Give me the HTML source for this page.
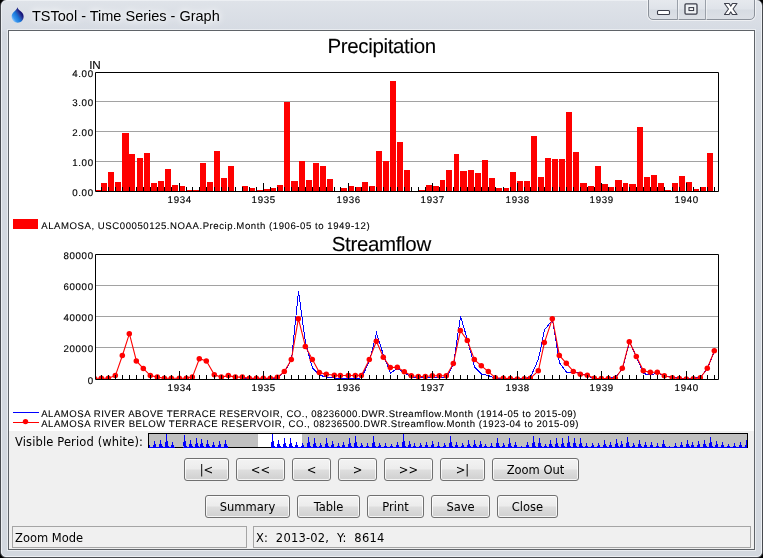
<!DOCTYPE html>
<html lang="en">
<head>
<meta charset="utf-8">
<title>TSTool - Time Series - Graph</title>
<style>
html,body{margin:0;padding:0;}
body{width:763px;height:558px;overflow:hidden;background:#000;position:relative;font-family:"Liberation Sans",sans-serif;}
#win{position:absolute;left:0;top:-1px;width:761px;height:557px;border:1px solid #484b50;border-radius:7px 7px 6px 6px;
 background:linear-gradient(#dfe3e9 0,#d6dbe3 31px,#d3d8df 32px,#d3d8df 100%);overflow:hidden;}
#win .hl{position:absolute;left:0;top:0;right:0;bottom:0;border:1px solid #eceff3;border-radius:6px 6px 5px 5px;}
#title{text-shadow:0 0 5px rgba(255,255,255,.95),0 0 9px rgba(255,255,255,.8),0 0 14px rgba(255,255,255,.6);will-change:transform;position:absolute;left:32px;top:7px;font-size:14.5px;line-height:18px;color:#000;white-space:pre;}
#client{position:absolute;left:8px;top:30px;width:745px;height:518px;border:1px solid #5f6368;background:#f0f0f0;box-shadow:0 0 0 1px #e9ecf0;}
#canvas{position:absolute;left:9px;top:31px;width:745px;height:400px;background:#fff;}
#caps{position:absolute;left:647px;top:-1px;width:107px;height:21px;border:1px solid #8b919a;border-radius:0 0 5px 5px;
 background:linear-gradient(#e6e9ee 0,#dfe3e9 48%,#d6dbe2 52%,#dce0e6 100%);box-sizing:border-box;box-shadow:0 0 0 1px rgba(255,255,255,.55);}
#caps i{position:absolute;top:0;width:1px;height:20px;background:#9aa0a9;box-shadow:1px 0 0 rgba(255,255,255,.5);}
.btn{will-change:transform;position:absolute;height:21px;border:1px solid #707070;border-radius:3px;box-sizing:content-box;
 background:linear-gradient(#f3f3f3 0,#ececec 48%,#dedede 52%,#d0d0d0 100%);box-shadow:inset 0 0 0 1px rgba(255,255,255,.75);
 font-family:"DejaVu Sans","Liberation Sans",sans-serif;font-size:11.5px;line-height:22px;text-align:center;color:#000;white-space:pre;}
.ui{will-change:transform;position:absolute;font-family:"DejaVu Sans","Liberation Sans",sans-serif;font-size:11.5px;line-height:14px;color:#000;white-space:pre;}
.fld{position:absolute;top:526px;height:20px;border:1px solid #a5a5a5;background:#f0f0f0;}
svg{position:absolute;left:0;top:0;will-change:transform;}
svg text{font-family:"Liberation Sans",sans-serif;font-size:10px;fill:#000;stroke:#000;stroke-width:.1px;text-rendering:geometricPrecision;}
svg text.ax{font-size:9.7px;letter-spacing:.65px;stroke-width:.15px;}
svg text.lg{font-size:9.6px;letter-spacing:.5px;}
svg text.ttl{font-size:20.5px;letter-spacing:-.34px;}
</style>
</head>
<body>
<div id="win"><div class="hl"></div>
<div id="caps"><i style="left:28px"></i><i style="left:56px"></i></div>
</div>
<div id="title">TSTool - Time Series - Graph</div>
<div id="client"></div>
<div id="canvas"></div>

<div class="ui" style="left:14.6px;top:434.5px;letter-spacing:.13px">Visible Period (white):</div>

<div class="btn" style="left:184px;top:458px;width:43px">|&lt;</div>
<div class="btn" style="left:236px;top:458px;width:47px">&lt;&lt;</div>
<div class="btn" style="left:292px;top:458px;width:37px">&lt;</div>
<div class="btn" style="left:338px;top:458px;width:37px">&gt;</div>
<div class="btn" style="left:384px;top:458px;width:47px">&gt;&gt;</div>
<div class="btn" style="left:440px;top:458px;width:43px">&gt;|</div>
<div class="btn" style="left:492px;top:458px;width:85px">Zoom Out</div>

<div class="btn" style="left:205px;top:495px;width:83px">Summary</div>
<div class="btn" style="left:297px;top:495px;width:61px">Table</div>
<div class="btn" style="left:367px;top:495px;width:55px">Print</div>
<div class="btn" style="left:431px;top:495px;width:57px">Save</div>
<div class="btn" style="left:497px;top:495px;width:59px">Close</div>

<div class="fld" style="left:12px;width:233px"></div>
<div class="fld" style="left:253px;width:496px"></div>
<div class="ui" style="left:15px;top:530.5px">Zoom Mode</div>
<div class="ui" style="left:256px;top:530.5px;letter-spacing:.2px">X:  2013-02,  Y:  8614</div>

<svg width="763" height="558" viewBox="0 0 763 558">
<!-- app icon: water drop -->
<defs><linearGradient id="dg" x1="0.1" y1="0.95" x2="0.95" y2="0.25"><stop offset="0" stop-color="#b4dcff"/><stop offset=".22" stop-color="#3a96ee"/><stop offset=".48" stop-color="#1674d6"/><stop offset=".62" stop-color="#2b4cac"/><stop offset=".8" stop-color="#17177c"/><stop offset="1" stop-color="#1d0f6e"/></linearGradient></defs>
<path d="M17.4 7.2 C17.8 9.5 20 10.5 21.8 12.3 C24.3 14.8 24.2 18.6 21.9 20.9 C19.6 23.2 15.7 23.2 13.4 20.9 C11.1 18.6 11 14.9 13.3 12.5 C15 10.7 17 9.5 17.4 7.2Z" fill="url(#dg)"/>
<!-- caption glyphs -->
<rect x="657.5" y="10.5" width="12" height="4" rx="1" fill="#fff" stroke="#3d3f4b" stroke-width="1.1"/>
<rect x="685" y="3.9" width="12" height="10.2" rx="1" fill="#eef1f4" stroke="#3d3f4b" stroke-width="1.3"/>
<rect x="689" y="7.6" width="4.6" height="2.9" fill="#fff" stroke="#3d3f4b" stroke-width="1.1"/>
<path d="M724.5 3.5 h4.6 l1.65 2.6 l1.65 -2.6 h4.6 l-4 5.5 l4 5.5 h-4.6 l-1.65 -2.6 l-1.65 2.6 h-4.6 l4 -5.5 z" fill="#fff" stroke="#3d3f4b" stroke-width="1.1" stroke-linejoin="round"/>
<rect x="96" y="101" width="622" height="1" fill="#a2a2a2"/>
<rect x="96" y="131" width="622" height="1" fill="#a2a2a2"/>
<rect x="96" y="161" width="622" height="1" fill="#a2a2a2"/>
<rect x="96" y="190" width="5" height="1" fill="#fe0000"/>
<rect x="101" y="183" width="6" height="8" fill="#fe0000"/>
<rect x="108" y="172" width="6" height="19" fill="#fe0000"/>
<rect x="115" y="182" width="6" height="9" fill="#fe0000"/>
<rect x="122" y="133" width="7" height="58" fill="#fe0000"/>
<rect x="129" y="154" width="6" height="37" fill="#fe0000"/>
<rect x="137" y="158" width="6" height="33" fill="#fe0000"/>
<rect x="144" y="153" width="6" height="38" fill="#fe0000"/>
<rect x="151" y="183" width="6" height="8" fill="#fe0000"/>
<rect x="158" y="181" width="6" height="10" fill="#fe0000"/>
<rect x="165" y="169" width="6" height="22" fill="#fe0000"/>
<rect x="172" y="185" width="6" height="6" fill="#fe0000"/>
<rect x="179" y="186" width="6" height="5" fill="#fe0000"/>
<rect x="186" y="190" width="6" height="1" fill="#fe0000"/>
<rect x="193" y="190" width="6" height="1" fill="#fe0000"/>
<rect x="200" y="163" width="6" height="28" fill="#fe0000"/>
<rect x="207" y="182" width="6" height="9" fill="#fe0000"/>
<rect x="214" y="151" width="6" height="40" fill="#fe0000"/>
<rect x="221" y="178" width="6" height="13" fill="#fe0000"/>
<rect x="228" y="166" width="6" height="25" fill="#fe0000"/>
<rect x="242" y="186" width="6" height="5" fill="#fe0000"/>
<rect x="249" y="188" width="6" height="3" fill="#fe0000"/>
<rect x="256" y="190" width="7" height="1" fill="#fe0000"/>
<rect x="264" y="189" width="6" height="2" fill="#fe0000"/>
<rect x="271" y="188" width="5" height="3" fill="#fe0000"/>
<rect x="277" y="185" width="6" height="6" fill="#fe0000"/>
<rect x="284" y="102" width="6" height="89" fill="#fe0000"/>
<rect x="291" y="181" width="7" height="10" fill="#fe0000"/>
<rect x="299" y="161" width="6" height="30" fill="#fe0000"/>
<rect x="306" y="180" width="6" height="11" fill="#fe0000"/>
<rect x="313" y="163" width="6" height="28" fill="#fe0000"/>
<rect x="320" y="166" width="6" height="25" fill="#fe0000"/>
<rect x="327" y="179" width="6" height="12" fill="#fe0000"/>
<rect x="341" y="188" width="6" height="3" fill="#fe0000"/>
<rect x="348" y="186" width="6" height="5" fill="#fe0000"/>
<rect x="355" y="187" width="6" height="4" fill="#fe0000"/>
<rect x="362" y="182" width="6" height="9" fill="#fe0000"/>
<rect x="369" y="186" width="6" height="5" fill="#fe0000"/>
<rect x="376" y="151" width="6" height="40" fill="#fe0000"/>
<rect x="383" y="161" width="6" height="30" fill="#fe0000"/>
<rect x="390" y="81" width="6" height="110" fill="#fe0000"/>
<rect x="397" y="142" width="6" height="49" fill="#fe0000"/>
<rect x="404" y="170" width="6" height="21" fill="#fe0000"/>
<rect x="419" y="190" width="6" height="1" fill="#fe0000"/>
<rect x="426" y="185" width="6" height="6" fill="#fe0000"/>
<rect x="433" y="186" width="6" height="5" fill="#fe0000"/>
<rect x="440" y="180" width="5" height="11" fill="#fe0000"/>
<rect x="446" y="170" width="6" height="21" fill="#fe0000"/>
<rect x="454" y="154" width="5" height="37" fill="#fe0000"/>
<rect x="460" y="171" width="7" height="20" fill="#fe0000"/>
<rect x="468" y="170" width="6" height="21" fill="#fe0000"/>
<rect x="475" y="173" width="6" height="18" fill="#fe0000"/>
<rect x="482" y="160" width="6" height="31" fill="#fe0000"/>
<rect x="489" y="178" width="6" height="13" fill="#fe0000"/>
<rect x="496" y="188" width="6" height="3" fill="#fe0000"/>
<rect x="503" y="188" width="6" height="3" fill="#fe0000"/>
<rect x="510" y="172" width="6" height="19" fill="#fe0000"/>
<rect x="517" y="181" width="6" height="10" fill="#fe0000"/>
<rect x="524" y="181" width="6" height="10" fill="#fe0000"/>
<rect x="531" y="136" width="6" height="55" fill="#fe0000"/>
<rect x="538" y="177" width="6" height="14" fill="#fe0000"/>
<rect x="545" y="158" width="6" height="33" fill="#fe0000"/>
<rect x="552" y="159" width="6" height="32" fill="#fe0000"/>
<rect x="559" y="159" width="6" height="32" fill="#fe0000"/>
<rect x="566" y="112" width="6" height="79" fill="#fe0000"/>
<rect x="573" y="152" width="6" height="39" fill="#fe0000"/>
<rect x="580" y="183" width="7" height="8" fill="#fe0000"/>
<rect x="588" y="186" width="6" height="5" fill="#fe0000"/>
<rect x="595" y="166" width="6" height="25" fill="#fe0000"/>
<rect x="602" y="184" width="6" height="7" fill="#fe0000"/>
<rect x="609" y="187" width="5" height="4" fill="#fe0000"/>
<rect x="615" y="180" width="7" height="11" fill="#fe0000"/>
<rect x="623" y="183" width="5" height="8" fill="#fe0000"/>
<rect x="629" y="184" width="7" height="7" fill="#fe0000"/>
<rect x="637" y="127" width="6" height="64" fill="#fe0000"/>
<rect x="644" y="177" width="6" height="14" fill="#fe0000"/>
<rect x="651" y="175" width="6" height="16" fill="#fe0000"/>
<rect x="658" y="183" width="6" height="8" fill="#fe0000"/>
<rect x="665" y="190" width="6" height="1" fill="#fe0000"/>
<rect x="672" y="183" width="6" height="8" fill="#fe0000"/>
<rect x="679" y="176" width="6" height="15" fill="#fe0000"/>
<rect x="686" y="182" width="6" height="9" fill="#fe0000"/>
<rect x="693" y="189" width="6" height="2" fill="#fe0000"/>
<rect x="700" y="187" width="6" height="4" fill="#fe0000"/>
<rect x="707" y="153" width="6" height="38" fill="#fe0000"/>
<rect x="101" y="187" width="1" height="4" fill="#000"/>
<rect x="108" y="187" width="1" height="4" fill="#000"/>
<rect x="115" y="187" width="1" height="4" fill="#000"/>
<rect x="122" y="187" width="1" height="4" fill="#000"/>
<rect x="129" y="187" width="1" height="4" fill="#000"/>
<rect x="136" y="187" width="1" height="4" fill="#000"/>
<rect x="143" y="187" width="1" height="4" fill="#000"/>
<rect x="150" y="187" width="1" height="4" fill="#000"/>
<rect x="157" y="187" width="1" height="4" fill="#000"/>
<rect x="164" y="187" width="1" height="4" fill="#000"/>
<rect x="171" y="187" width="1" height="4" fill="#000"/>
<rect x="179" y="183" width="1" height="8" fill="#000"/>
<rect x="186" y="187" width="1" height="4" fill="#000"/>
<rect x="192" y="187" width="1" height="4" fill="#000"/>
<rect x="199" y="187" width="1" height="4" fill="#000"/>
<rect x="206" y="187" width="1" height="4" fill="#000"/>
<rect x="214" y="187" width="1" height="4" fill="#000"/>
<rect x="221" y="187" width="1" height="4" fill="#000"/>
<rect x="228" y="187" width="1" height="4" fill="#000"/>
<rect x="235" y="187" width="1" height="4" fill="#000"/>
<rect x="242" y="187" width="1" height="4" fill="#000"/>
<rect x="249" y="187" width="1" height="4" fill="#000"/>
<rect x="256" y="187" width="1" height="4" fill="#000"/>
<rect x="263" y="183" width="1" height="8" fill="#000"/>
<rect x="270" y="187" width="1" height="4" fill="#000"/>
<rect x="277" y="187" width="1" height="4" fill="#000"/>
<rect x="284" y="187" width="1" height="4" fill="#000"/>
<rect x="291" y="187" width="1" height="4" fill="#000"/>
<rect x="298" y="187" width="1" height="4" fill="#000"/>
<rect x="305" y="187" width="1" height="4" fill="#000"/>
<rect x="312" y="187" width="1" height="4" fill="#000"/>
<rect x="319" y="187" width="1" height="4" fill="#000"/>
<rect x="326" y="187" width="1" height="4" fill="#000"/>
<rect x="334" y="187" width="1" height="4" fill="#000"/>
<rect x="340" y="187" width="1" height="4" fill="#000"/>
<rect x="348" y="183" width="1" height="8" fill="#000"/>
<rect x="355" y="187" width="1" height="4" fill="#000"/>
<rect x="361" y="187" width="1" height="4" fill="#000"/>
<rect x="369" y="187" width="1" height="4" fill="#000"/>
<rect x="376" y="187" width="1" height="4" fill="#000"/>
<rect x="383" y="187" width="1" height="4" fill="#000"/>
<rect x="390" y="187" width="1" height="4" fill="#000"/>
<rect x="397" y="187" width="1" height="4" fill="#000"/>
<rect x="404" y="187" width="1" height="4" fill="#000"/>
<rect x="411" y="187" width="1" height="4" fill="#000"/>
<rect x="418" y="187" width="1" height="4" fill="#000"/>
<rect x="425" y="187" width="1" height="4" fill="#000"/>
<rect x="432" y="183" width="1" height="8" fill="#000"/>
<rect x="439" y="187" width="1" height="4" fill="#000"/>
<rect x="446" y="187" width="1" height="4" fill="#000"/>
<rect x="453" y="187" width="1" height="4" fill="#000"/>
<rect x="460" y="187" width="1" height="4" fill="#000"/>
<rect x="467" y="187" width="1" height="4" fill="#000"/>
<rect x="474" y="187" width="1" height="4" fill="#000"/>
<rect x="481" y="187" width="1" height="4" fill="#000"/>
<rect x="488" y="187" width="1" height="4" fill="#000"/>
<rect x="495" y="187" width="1" height="4" fill="#000"/>
<rect x="503" y="187" width="1" height="4" fill="#000"/>
<rect x="510" y="187" width="1" height="4" fill="#000"/>
<rect x="517" y="183" width="1" height="8" fill="#000"/>
<rect x="524" y="187" width="1" height="4" fill="#000"/>
<rect x="530" y="187" width="1" height="4" fill="#000"/>
<rect x="538" y="187" width="1" height="4" fill="#000"/>
<rect x="544" y="187" width="1" height="4" fill="#000"/>
<rect x="552" y="187" width="1" height="4" fill="#000"/>
<rect x="559" y="187" width="1" height="4" fill="#000"/>
<rect x="566" y="187" width="1" height="4" fill="#000"/>
<rect x="573" y="187" width="1" height="4" fill="#000"/>
<rect x="580" y="187" width="1" height="4" fill="#000"/>
<rect x="587" y="187" width="1" height="4" fill="#000"/>
<rect x="594" y="187" width="1" height="4" fill="#000"/>
<rect x="601" y="183" width="1" height="8" fill="#000"/>
<rect x="608" y="187" width="1" height="4" fill="#000"/>
<rect x="615" y="187" width="1" height="4" fill="#000"/>
<rect x="622" y="187" width="1" height="4" fill="#000"/>
<rect x="629" y="187" width="1" height="4" fill="#000"/>
<rect x="636" y="187" width="1" height="4" fill="#000"/>
<rect x="643" y="187" width="1" height="4" fill="#000"/>
<rect x="650" y="187" width="1" height="4" fill="#000"/>
<rect x="657" y="187" width="1" height="4" fill="#000"/>
<rect x="664" y="187" width="1" height="4" fill="#000"/>
<rect x="672" y="187" width="1" height="4" fill="#000"/>
<rect x="679" y="187" width="1" height="4" fill="#000"/>
<rect x="686" y="183" width="1" height="8" fill="#000"/>
<rect x="693" y="187" width="1" height="4" fill="#000"/>
<rect x="700" y="187" width="1" height="4" fill="#000"/>
<rect x="707" y="187" width="1" height="4" fill="#000"/>
<rect x="714" y="187" width="1" height="4" fill="#000"/>
<path d="M95.5 72.5H718.5V191.5H95.5Z" fill="none" stroke="#000" stroke-width="1"/>
<rect x="96" y="285" width="622" height="1" fill="#a2a2a2"/>
<rect x="96" y="316" width="622" height="1" fill="#a2a2a2"/>
<rect x="96" y="347" width="622" height="1" fill="#a2a2a2"/>
<clipPath id="cs"><rect x="96" y="255" width="622" height="124"/></clipPath>
<polyline clip-path="url(#cs)" points="242.5,378.4 249.5,378.4 256.5,378.4 263.5,378.4 270.5,378.4 277.5,378.2 284.5,371.8 291.5,359.6 298.5,291.3 305.5,343.0 312.5,368.0 319.5,375.0 326.5,377.3 334.5,378.0 340.5,378.4 348.5,378.6 355.5,378.6 361.5,377.8 369.5,361.0 376.5,333.0 383.5,355.2 390.5,373.1 397.5,368.4 404.5,373.0 411.5,376.7 418.5,377.8 425.5,377.8 432.5,377.8 439.5,377.8 446.5,377.6 453.5,364.5 460.5,316.3 467.5,339.8 474.5,366.9 481.5,374.0 488.5,375.6 495.5,378.4 503.5,378.4 510.5,378.4 517.5,378.4 524.5,378.4 530.5,377.3 538.5,359.0 544.5,329.8 552.5,320.0 559.5,362.7 566.5,372.1 573.5,372.1 580.5,373.0 587.5,376.2 594.5,378.4 601.5,378.4 608.5,378.4 615.5,377.5 622.5,368.5 629.5,341.8 636.5,357.0 643.5,373.6 650.5,375.0 657.5,373.0 664.5,376.0 672.5,377.2 679.5,378.0 686.5,378.4 693.5,378.2 700.5,377.1 707.5,368.4 714.5,350.8" fill="none" stroke="#0000ff" stroke-width="1" shape-rendering="crispEdges"/>
<g clip-path="url(#cs)"><polyline points="94.4,378.3 101.4,378.3 108.4,378.3 115.4,375.6 122.4,355.5 129.4,333.7 136.4,360.9 143.4,368.6 150.4,375.6 157.4,377.1 164.4,378.3 171.4,378.3 179.4,378.3 186.4,378.3 192.4,377.1 199.4,358.7 206.4,360.9 214.4,374.7 221.4,377.1 228.4,375.6 235.4,377.1 242.4,377.1 249.4,378.3 256.4,378.3 263.4,378.2 270.4,378.2 277.4,377.3 284.4,371.6 291.4,359.4 298.4,318.7 305.4,346.4 312.4,359.6 319.4,372.5 326.4,374.2 334.4,375.2 340.4,375.5 348.4,375.5 355.4,375.5 361.4,375.5 369.4,359.6 376.4,341.3 383.4,357.3 390.4,367.6 397.4,367.3 404.4,371.8 411.4,375.7 418.4,376.5 425.4,376.5 432.4,375.7 439.4,375.7 446.4,375.7 453.4,363.5 460.4,330.6 467.4,340.4 474.4,359.6 481.4,365.8 488.4,371.6 495.4,377.8 503.4,378.2 510.4,378.6 517.4,379.0 524.4,378.8 530.4,378.2 538.4,370.8 544.4,342.6 552.4,318.7 559.4,355.4 566.4,363.3 573.4,371.4 580.4,374.2 587.4,375.2 594.4,378.2 601.4,378.6 608.4,378.6 615.4,378.2 622.4,368.2 629.4,341.7 636.4,356.4 643.4,370.8 650.4,372.3 657.4,372.3 664.4,375.7 672.4,377.8 679.4,378.6 686.4,379.0 693.4,378.8 700.4,377.8 707.4,368.2 714.4,350.7" fill="none" stroke="#ff0000" stroke-width="1.1"/>
<circle cx="94.3" cy="378.3" r="2.75" fill="#ff0000"/>
<circle cx="101.3" cy="378.3" r="2.75" fill="#ff0000"/>
<circle cx="108.3" cy="378.3" r="2.75" fill="#ff0000"/>
<circle cx="115.3" cy="375.6" r="2.75" fill="#ff0000"/>
<circle cx="122.3" cy="355.5" r="2.75" fill="#ff0000"/>
<circle cx="129.3" cy="333.7" r="2.75" fill="#ff0000"/>
<circle cx="136.3" cy="360.9" r="2.75" fill="#ff0000"/>
<circle cx="143.3" cy="368.6" r="2.75" fill="#ff0000"/>
<circle cx="150.3" cy="375.6" r="2.75" fill="#ff0000"/>
<circle cx="157.3" cy="377.1" r="2.75" fill="#ff0000"/>
<circle cx="164.3" cy="378.3" r="2.75" fill="#ff0000"/>
<circle cx="171.3" cy="378.3" r="2.75" fill="#ff0000"/>
<circle cx="179.3" cy="378.3" r="2.75" fill="#ff0000"/>
<circle cx="186.3" cy="378.3" r="2.75" fill="#ff0000"/>
<circle cx="192.3" cy="377.1" r="2.75" fill="#ff0000"/>
<circle cx="199.3" cy="358.7" r="2.75" fill="#ff0000"/>
<circle cx="206.3" cy="360.9" r="2.75" fill="#ff0000"/>
<circle cx="214.3" cy="374.7" r="2.75" fill="#ff0000"/>
<circle cx="221.3" cy="377.1" r="2.75" fill="#ff0000"/>
<circle cx="228.3" cy="375.6" r="2.75" fill="#ff0000"/>
<circle cx="235.3" cy="377.1" r="2.75" fill="#ff0000"/>
<circle cx="242.3" cy="377.1" r="2.75" fill="#ff0000"/>
<circle cx="249.3" cy="378.3" r="2.75" fill="#ff0000"/>
<circle cx="256.3" cy="378.3" r="2.75" fill="#ff0000"/>
<circle cx="263.3" cy="378.2" r="2.75" fill="#ff0000"/>
<circle cx="270.3" cy="378.2" r="2.75" fill="#ff0000"/>
<circle cx="277.3" cy="377.3" r="2.75" fill="#ff0000"/>
<circle cx="284.3" cy="371.6" r="2.75" fill="#ff0000"/>
<circle cx="291.3" cy="359.4" r="2.75" fill="#ff0000"/>
<circle cx="298.3" cy="318.7" r="2.75" fill="#ff0000"/>
<circle cx="305.3" cy="346.4" r="2.75" fill="#ff0000"/>
<circle cx="312.3" cy="359.6" r="2.75" fill="#ff0000"/>
<circle cx="319.3" cy="372.5" r="2.75" fill="#ff0000"/>
<circle cx="326.3" cy="374.2" r="2.75" fill="#ff0000"/>
<circle cx="334.3" cy="375.2" r="2.75" fill="#ff0000"/>
<circle cx="340.3" cy="375.5" r="2.75" fill="#ff0000"/>
<circle cx="348.3" cy="375.5" r="2.75" fill="#ff0000"/>
<circle cx="355.3" cy="375.5" r="2.75" fill="#ff0000"/>
<circle cx="361.3" cy="375.5" r="2.75" fill="#ff0000"/>
<circle cx="369.3" cy="359.6" r="2.75" fill="#ff0000"/>
<circle cx="376.3" cy="341.3" r="2.75" fill="#ff0000"/>
<circle cx="383.3" cy="357.3" r="2.75" fill="#ff0000"/>
<circle cx="390.3" cy="367.6" r="2.75" fill="#ff0000"/>
<circle cx="397.3" cy="367.3" r="2.75" fill="#ff0000"/>
<circle cx="404.3" cy="371.8" r="2.75" fill="#ff0000"/>
<circle cx="411.3" cy="375.7" r="2.75" fill="#ff0000"/>
<circle cx="418.3" cy="376.5" r="2.75" fill="#ff0000"/>
<circle cx="425.3" cy="376.5" r="2.75" fill="#ff0000"/>
<circle cx="432.3" cy="375.7" r="2.75" fill="#ff0000"/>
<circle cx="439.3" cy="375.7" r="2.75" fill="#ff0000"/>
<circle cx="446.3" cy="375.7" r="2.75" fill="#ff0000"/>
<circle cx="453.3" cy="363.5" r="2.75" fill="#ff0000"/>
<circle cx="460.3" cy="330.6" r="2.75" fill="#ff0000"/>
<circle cx="467.3" cy="340.4" r="2.75" fill="#ff0000"/>
<circle cx="474.3" cy="359.6" r="2.75" fill="#ff0000"/>
<circle cx="481.3" cy="365.8" r="2.75" fill="#ff0000"/>
<circle cx="488.3" cy="371.6" r="2.75" fill="#ff0000"/>
<circle cx="495.3" cy="377.8" r="2.75" fill="#ff0000"/>
<circle cx="503.3" cy="378.2" r="2.75" fill="#ff0000"/>
<circle cx="510.3" cy="378.6" r="2.75" fill="#ff0000"/>
<circle cx="517.3" cy="379.0" r="2.75" fill="#ff0000"/>
<circle cx="524.3" cy="378.8" r="2.75" fill="#ff0000"/>
<circle cx="530.3" cy="378.2" r="2.75" fill="#ff0000"/>
<circle cx="538.3" cy="370.8" r="2.75" fill="#ff0000"/>
<circle cx="544.3" cy="342.6" r="2.75" fill="#ff0000"/>
<circle cx="552.3" cy="318.7" r="2.75" fill="#ff0000"/>
<circle cx="559.3" cy="355.4" r="2.75" fill="#ff0000"/>
<circle cx="566.3" cy="363.3" r="2.75" fill="#ff0000"/>
<circle cx="573.3" cy="371.4" r="2.75" fill="#ff0000"/>
<circle cx="580.3" cy="374.2" r="2.75" fill="#ff0000"/>
<circle cx="587.3" cy="375.2" r="2.75" fill="#ff0000"/>
<circle cx="594.3" cy="378.2" r="2.75" fill="#ff0000"/>
<circle cx="601.3" cy="378.6" r="2.75" fill="#ff0000"/>
<circle cx="608.3" cy="378.6" r="2.75" fill="#ff0000"/>
<circle cx="615.3" cy="378.2" r="2.75" fill="#ff0000"/>
<circle cx="622.3" cy="368.2" r="2.75" fill="#ff0000"/>
<circle cx="629.3" cy="341.7" r="2.75" fill="#ff0000"/>
<circle cx="636.3" cy="356.4" r="2.75" fill="#ff0000"/>
<circle cx="643.3" cy="370.8" r="2.75" fill="#ff0000"/>
<circle cx="650.3" cy="372.3" r="2.75" fill="#ff0000"/>
<circle cx="657.3" cy="372.3" r="2.75" fill="#ff0000"/>
<circle cx="664.3" cy="375.7" r="2.75" fill="#ff0000"/>
<circle cx="672.3" cy="377.8" r="2.75" fill="#ff0000"/>
<circle cx="679.3" cy="378.6" r="2.75" fill="#ff0000"/>
<circle cx="686.3" cy="379.0" r="2.75" fill="#ff0000"/>
<circle cx="693.3" cy="378.8" r="2.75" fill="#ff0000"/>
<circle cx="700.3" cy="377.8" r="2.75" fill="#ff0000"/>
<circle cx="707.3" cy="368.2" r="2.75" fill="#ff0000"/>
<circle cx="714.3" cy="350.7" r="2.75" fill="#ff0000"/>
</g>
<rect x="101" y="375" width="1" height="4" fill="#000"/>
<rect x="108" y="375" width="1" height="4" fill="#000"/>
<rect x="115" y="375" width="1" height="4" fill="#000"/>
<rect x="122" y="375" width="1" height="4" fill="#000"/>
<rect x="129" y="375" width="1" height="4" fill="#000"/>
<rect x="136" y="375" width="1" height="4" fill="#000"/>
<rect x="143" y="375" width="1" height="4" fill="#000"/>
<rect x="150" y="375" width="1" height="4" fill="#000"/>
<rect x="157" y="375" width="1" height="4" fill="#000"/>
<rect x="164" y="375" width="1" height="4" fill="#000"/>
<rect x="171" y="375" width="1" height="4" fill="#000"/>
<rect x="179" y="371" width="1" height="8" fill="#000"/>
<rect x="186" y="375" width="1" height="4" fill="#000"/>
<rect x="192" y="375" width="1" height="4" fill="#000"/>
<rect x="199" y="375" width="1" height="4" fill="#000"/>
<rect x="206" y="375" width="1" height="4" fill="#000"/>
<rect x="214" y="375" width="1" height="4" fill="#000"/>
<rect x="221" y="375" width="1" height="4" fill="#000"/>
<rect x="228" y="375" width="1" height="4" fill="#000"/>
<rect x="235" y="375" width="1" height="4" fill="#000"/>
<rect x="242" y="375" width="1" height="4" fill="#000"/>
<rect x="249" y="375" width="1" height="4" fill="#000"/>
<rect x="256" y="375" width="1" height="4" fill="#000"/>
<rect x="263" y="371" width="1" height="8" fill="#000"/>
<rect x="270" y="375" width="1" height="4" fill="#000"/>
<rect x="277" y="375" width="1" height="4" fill="#000"/>
<rect x="284" y="375" width="1" height="4" fill="#000"/>
<rect x="291" y="375" width="1" height="4" fill="#000"/>
<rect x="298" y="375" width="1" height="4" fill="#000"/>
<rect x="305" y="375" width="1" height="4" fill="#000"/>
<rect x="312" y="375" width="1" height="4" fill="#000"/>
<rect x="319" y="375" width="1" height="4" fill="#000"/>
<rect x="326" y="375" width="1" height="4" fill="#000"/>
<rect x="334" y="375" width="1" height="4" fill="#000"/>
<rect x="340" y="375" width="1" height="4" fill="#000"/>
<rect x="348" y="371" width="1" height="8" fill="#000"/>
<rect x="355" y="375" width="1" height="4" fill="#000"/>
<rect x="361" y="375" width="1" height="4" fill="#000"/>
<rect x="369" y="375" width="1" height="4" fill="#000"/>
<rect x="376" y="375" width="1" height="4" fill="#000"/>
<rect x="383" y="375" width="1" height="4" fill="#000"/>
<rect x="390" y="375" width="1" height="4" fill="#000"/>
<rect x="397" y="375" width="1" height="4" fill="#000"/>
<rect x="404" y="375" width="1" height="4" fill="#000"/>
<rect x="411" y="375" width="1" height="4" fill="#000"/>
<rect x="418" y="375" width="1" height="4" fill="#000"/>
<rect x="425" y="375" width="1" height="4" fill="#000"/>
<rect x="432" y="371" width="1" height="8" fill="#000"/>
<rect x="439" y="375" width="1" height="4" fill="#000"/>
<rect x="446" y="375" width="1" height="4" fill="#000"/>
<rect x="453" y="375" width="1" height="4" fill="#000"/>
<rect x="460" y="375" width="1" height="4" fill="#000"/>
<rect x="467" y="375" width="1" height="4" fill="#000"/>
<rect x="474" y="375" width="1" height="4" fill="#000"/>
<rect x="481" y="375" width="1" height="4" fill="#000"/>
<rect x="488" y="375" width="1" height="4" fill="#000"/>
<rect x="495" y="375" width="1" height="4" fill="#000"/>
<rect x="503" y="375" width="1" height="4" fill="#000"/>
<rect x="510" y="375" width="1" height="4" fill="#000"/>
<rect x="517" y="371" width="1" height="8" fill="#000"/>
<rect x="524" y="375" width="1" height="4" fill="#000"/>
<rect x="530" y="375" width="1" height="4" fill="#000"/>
<rect x="538" y="375" width="1" height="4" fill="#000"/>
<rect x="544" y="375" width="1" height="4" fill="#000"/>
<rect x="552" y="375" width="1" height="4" fill="#000"/>
<rect x="559" y="375" width="1" height="4" fill="#000"/>
<rect x="566" y="375" width="1" height="4" fill="#000"/>
<rect x="573" y="375" width="1" height="4" fill="#000"/>
<rect x="580" y="375" width="1" height="4" fill="#000"/>
<rect x="587" y="375" width="1" height="4" fill="#000"/>
<rect x="594" y="375" width="1" height="4" fill="#000"/>
<rect x="601" y="371" width="1" height="8" fill="#000"/>
<rect x="608" y="375" width="1" height="4" fill="#000"/>
<rect x="615" y="375" width="1" height="4" fill="#000"/>
<rect x="622" y="375" width="1" height="4" fill="#000"/>
<rect x="629" y="375" width="1" height="4" fill="#000"/>
<rect x="636" y="375" width="1" height="4" fill="#000"/>
<rect x="643" y="375" width="1" height="4" fill="#000"/>
<rect x="650" y="375" width="1" height="4" fill="#000"/>
<rect x="657" y="375" width="1" height="4" fill="#000"/>
<rect x="664" y="375" width="1" height="4" fill="#000"/>
<rect x="672" y="375" width="1" height="4" fill="#000"/>
<rect x="679" y="375" width="1" height="4" fill="#000"/>
<rect x="686" y="371" width="1" height="8" fill="#000"/>
<rect x="693" y="375" width="1" height="4" fill="#000"/>
<rect x="700" y="375" width="1" height="4" fill="#000"/>
<rect x="707" y="375" width="1" height="4" fill="#000"/>
<rect x="714" y="375" width="1" height="4" fill="#000"/>
<path d="M95.5 254.5H718.5V379.5H95.5Z" fill="none" stroke="#000" stroke-width="1"/>
<text class="ax" x="93.7" y="77" text-anchor="end">4.00</text>
<text class="ax" x="93.7" y="106" text-anchor="end">3.00</text>
<text class="ax" x="93.7" y="136" text-anchor="end">2.00</text>
<text class="ax" x="93.7" y="166" text-anchor="end">1.00</text>
<text class="ax" x="93.7" y="196" text-anchor="end">0.00</text>
<text class="ax" x="93.7" y="259" text-anchor="end">80000</text>
<text class="ax" x="93.7" y="290" text-anchor="end">60000</text>
<text class="ax" x="93.7" y="321" text-anchor="end">40000</text>
<text class="ax" x="93.7" y="352" text-anchor="end">20000</text>
<text class="ax" x="93.7" y="384" text-anchor="end">0</text>
<text class="ax" x="179.7" y="203" text-anchor="middle">1934</text>
<text class="ax" x="179.7" y="391" text-anchor="middle">1934</text>
<text class="ax" x="263.7" y="203" text-anchor="middle">1935</text>
<text class="ax" x="263.7" y="391" text-anchor="middle">1935</text>
<text class="ax" x="348.7" y="203" text-anchor="middle">1936</text>
<text class="ax" x="348.7" y="391" text-anchor="middle">1936</text>
<text class="ax" x="432.7" y="203" text-anchor="middle">1937</text>
<text class="ax" x="432.7" y="391" text-anchor="middle">1937</text>
<text class="ax" x="517.7" y="203" text-anchor="middle">1938</text>
<text class="ax" x="517.7" y="391" text-anchor="middle">1938</text>
<text class="ax" x="601.7" y="203" text-anchor="middle">1939</text>
<text class="ax" x="601.7" y="391" text-anchor="middle">1939</text>
<text class="ax" x="686.7" y="203" text-anchor="middle">1940</text>
<text class="ax" x="686.7" y="391" text-anchor="middle">1940</text>
<text x="89.3" y="69.2" style="font-size:11.7px;letter-spacing:-.3px">IN</text>
<text x="381.6" y="52.9" text-anchor="middle" class="ttl">Precipitation</text>
<text x="381.3" y="251" text-anchor="middle" class="ttl">Streamflow</text>
<rect x="13" y="219" width="25" height="10" fill="#fe0000"/>
<text x="41.2" y="229" class="lg" style="letter-spacing:.55px">ALAMOSA, USC00050125.NOAA.Precip.Month (1906-05 to 1949-12)</text>
<rect x="13" y="412" width="26" height="1" fill="#0000ff"/>
<rect x="13" y="422" width="26" height="1" fill="#ff0000"/>
<circle cx="25.5" cy="421.6" r="2.7" fill="#ff0000"/>
<text x="41.2" y="417" class="lg">ALAMOSA RIVER ABOVE TERRACE RESERVOIR, CO., 08236000.DWR.Streamflow.Month (1914-05 to 2015-09)</text>
<text x="41.2" y="427" class="lg">ALAMOSA RIVER BELOW TERRACE RESERVOIR, CO., 08236500.DWR.Streamflow.Month (1923-04 to 2015-09)</text>
<rect x="148" y="433" width="600" height="15" fill="#c0c0c0"/>
<rect x="258" y="434" width="44" height="14" fill="#fff"/>
<clipPath id="cr"><rect x="148" y="434" width="600" height="14"/></clipPath>
<rect x="148" y="447" width="600" height="1" fill="#000"/>
<polyline clip-path="url(#cr)" points="147.0,447.5 147.5,447.1 148.0,445.3 148.5,442.0 149.0,444.8 149.5,446.3 150.0,446.9 151.0,447.3 151.5,447.5 153.0,447.5 153.5,447.0 154.0,444.9 154.5,441.0 155.0,444.2 155.5,446.1 156.0,446.9 157.0,447.3 157.5,447.5 159.0,447.5 159.5,446.9 160.0,444.3 160.5,439.6 161.0,443.6 161.5,445.8 162.0,446.7 163.0,447.3 163.5,447.5 165.0,447.5 165.5,446.4 166.0,442.1 166.5,433.9 167.0,440.7 167.5,444.5 168.0,446.1 169.0,447.1 169.5,447.5 171.0,447.5 171.5,447.1 172.0,445.3 172.5,442.0 173.0,444.8 173.5,446.3 174.0,446.9 175.0,447.3 175.5,447.5" fill="#0000ff" stroke="#0000ff" stroke-width="1" shape-rendering="crispEdges"/>
<polyline clip-path="url(#cr)" points="183.0,447.5 183.5,446.5 184.0,442.5 184.5,435.1 185.0,441.3 185.5,444.8 186.0,446.3 187.0,447.1 187.5,447.5 189.0,447.5 189.5,446.9 190.0,444.3 190.5,439.6 191.0,443.6 191.5,445.8 192.0,446.7 193.0,447.3 193.5,447.5 195.0,447.5 195.5,446.7 196.0,443.7 196.5,438.1 197.0,442.8 197.5,445.4 198.0,446.6 199.0,447.2 199.5,447.5 200.0,447.5 200.5,446.8 201.0,444.1 201.5,439.0 202.0,443.2 202.5,445.6 203.0,446.6 204.0,447.2 204.5,447.5 206.0,447.5 206.5,446.9 207.0,444.5 207.5,440.0 208.0,443.8 208.5,445.9 209.0,446.8 210.0,447.3 210.5,447.5 212.0,447.5 212.5,447.0 213.0,445.1 213.5,441.6 214.0,444.6 214.5,446.2 215.0,446.9 216.0,447.3 216.5,447.5 218.0,447.5 218.5,447.0 219.0,444.9 219.5,441.0 220.0,444.2 220.5,446.1 221.0,446.9 222.0,447.3 222.5,447.5 224.0,447.5 224.5,446.9 225.0,444.5 225.5,440.0 226.0,443.8 226.5,445.9 227.0,446.8 228.0,447.3 228.5,447.5" fill="#0000ff" stroke="#0000ff" stroke-width="1" shape-rendering="crispEdges"/>
<polyline clip-path="url(#cr)" points="271.0,447.5 271.5,446.4 272.0,442.2 272.5,434.3 273.0,440.9 273.5,444.6 274.0,446.2 275.0,447.1 275.5,447.5 277.0,447.5 277.5,446.9 278.0,444.3 278.5,439.6 279.0,443.6 279.5,445.8 280.0,446.7 281.0,447.3 281.5,447.5 283.0,447.5 283.5,446.7 284.0,443.7 284.5,438.1 285.0,442.8 285.5,445.4 286.0,446.6 287.0,447.2 287.5,447.5 289.0,447.5 289.5,446.8 290.0,443.9 290.5,438.5 291.0,443.0 291.5,445.5 292.0,446.6 293.0,447.2 293.5,447.5 295.0,447.5 295.5,447.1 296.0,445.5 296.5,442.4 297.0,444.9 297.5,446.4 298.0,447.0 299.0,447.3 299.5,447.5 301.0,447.5 301.5,447.1 302.0,445.7 302.5,443.0 303.0,445.2 303.5,446.5 304.0,447.1 305.0,447.4 305.5,447.5 307.0,447.5 307.5,446.7 308.0,443.3 308.5,437.1 309.0,442.3 309.5,445.2 310.0,446.5 311.0,447.2 311.5,447.5 313.0,447.5 313.5,446.8 314.0,443.9 314.5,438.5 315.0,443.0 315.5,445.5 316.0,446.6 317.0,447.2 317.5,447.5 319.0,447.5 319.5,447.2 320.0,445.9 320.5,443.5 321.0,445.5 321.5,446.6 322.0,447.1 323.0,447.4 323.5,447.5 325.0,447.5 325.5,446.7 326.0,443.7 326.5,438.1 327.0,442.8 327.5,445.4 328.0,446.6 329.0,447.2 329.5,447.5 331.0,447.5 331.5,447.0 332.0,444.9 332.5,441.0 333.0,444.2 333.5,446.1 334.0,446.9 335.0,447.3 335.5,447.5 337.0,447.5 337.5,447.3 338.0,446.3 338.5,444.4 339.0,445.9 339.5,446.8 340.0,447.2 341.0,447.4 341.5,447.5 342.0,447.5 342.5,447.1 343.0,445.3 343.5,442.0 344.0,444.8 344.5,446.3 345.0,446.9 346.0,447.3 346.5,447.5 348.0,447.5 348.5,446.8 349.0,443.9 349.5,438.5 350.0,443.0 350.5,445.5 351.0,446.6 352.0,447.2 352.5,447.5 354.0,447.5 354.5,446.6 355.0,443.1 355.5,436.5 356.0,442.0 356.5,445.1 357.0,446.4 358.0,447.2 358.5,447.5 360.0,447.5 360.5,447.1 361.0,445.7 361.5,443.0 362.0,445.2 362.5,446.5 363.0,447.1 364.0,447.4 364.5,447.5 366.0,447.5 366.5,447.3 367.0,446.3 367.5,444.4 368.0,445.9 368.5,446.8 369.0,447.2 370.0,447.4 370.5,447.5 372.0,447.5 372.5,446.6 373.0,442.8 373.5,435.7 374.0,441.6 374.5,444.9 375.0,446.3 376.0,447.1 376.5,447.5 378.0,447.5 378.5,447.1 379.0,445.7 379.5,443.0 380.0,445.2 380.5,446.5 381.0,447.1 382.0,447.4 382.5,447.5 384.0,447.5 384.5,447.3 385.0,446.3 385.5,444.4 386.0,445.9 386.5,446.8 387.0,447.2 388.0,447.4 388.5,447.5 390.0,447.5 390.5,447.2 391.0,446.1 391.5,444.0 392.0,445.8 392.5,446.7 393.0,447.1 394.0,447.4 394.5,447.5 396.0,447.5 396.5,447.1 397.0,445.5 397.5,442.4 398.0,444.9 398.5,446.4 399.0,447.0 400.0,447.3 400.5,447.5 402.0,447.5 402.5,446.4 403.0,442.1 403.5,433.9 404.0,440.7 404.5,444.5 405.0,446.1 406.0,447.1 406.5,447.5 408.0,447.5 408.5,447.0 409.0,444.9 409.5,441.0 410.0,444.2 410.5,446.1 411.0,446.9 412.0,447.3 412.5,447.5 413.0,447.5 413.5,447.3 414.0,446.3 414.5,444.4 415.0,445.9 415.5,446.8 416.0,447.2 417.0,447.4 417.5,447.5 419.0,447.5 419.5,447.1 420.0,445.7 420.5,443.0 421.0,445.2 421.5,446.5 422.0,447.1 423.0,447.4 423.5,447.5 425.0,447.5 425.5,447.1 426.0,445.3 426.5,442.0 427.0,444.8 427.5,446.3 428.0,446.9 429.0,447.3 429.5,447.5 431.0,447.5 431.5,447.0 432.0,444.9 432.5,441.0 433.0,444.2 433.5,446.1 434.0,446.9 435.0,447.3 435.5,447.5 437.0,447.5 437.5,447.2 438.0,446.2 438.5,444.2 439.0,445.9 439.5,446.8 440.0,447.2 441.0,447.4 441.5,447.5 443.0,447.5 443.5,447.1 444.0,445.7 444.5,443.0 445.0,445.2 445.5,446.5 446.0,447.1 447.0,447.4 447.5,447.5 449.0,447.5 449.5,446.6 450.0,442.9 450.5,436.1 451.0,441.8 451.5,445.0 452.0,446.4 453.0,447.2 453.5,447.5 455.0,447.5 455.5,447.0 456.0,445.1 456.5,441.6 457.0,444.6 457.5,446.2 458.0,446.9 459.0,447.3 459.5,447.5 461.0,447.5 461.5,447.2 462.0,445.9 462.5,443.5 463.0,445.5 463.5,446.6 464.0,447.1 465.0,447.4 465.5,447.5 467.0,447.5 467.5,446.9 468.0,444.7 468.5,440.4 469.0,443.9 469.5,445.9 470.0,446.8 471.0,447.3 471.5,447.5 473.0,447.5 473.5,446.9 474.0,444.7 474.5,440.5 475.0,444.0 475.5,446.0 476.0,446.8 477.0,447.3 477.5,447.5 479.0,447.5 479.5,447.0 480.0,444.9 480.5,441.0 481.0,444.2 481.5,446.1 482.0,446.9 483.0,447.3 483.5,447.5 484.0,447.5 484.5,447.2 485.0,446.1 485.5,444.0 486.0,445.8 486.5,446.7 487.0,447.1 488.0,447.4 488.5,447.5 490.0,447.5 490.5,447.3 491.0,446.3 491.5,444.4 492.0,445.9 492.5,446.8 493.0,447.2 494.0,447.4 494.5,447.5 496.0,447.5 496.5,446.7 497.0,443.6 497.5,437.7 498.0,442.6 498.5,445.3 499.0,446.5 500.0,447.2 500.5,447.5 502.0,447.5 502.5,447.2 503.0,445.9 503.5,443.5 504.0,445.5 504.5,446.6 505.0,447.1 506.0,447.4 506.5,447.5 508.0,447.5 508.5,446.8 509.0,443.9 509.5,438.5 510.0,443.0 510.5,445.5 511.0,446.6 512.0,447.2 512.5,447.5 514.0,447.5 514.5,447.0 515.0,445.1 515.5,441.6 516.0,444.6 516.5,446.2 517.0,446.9 518.0,447.3 518.5,447.5 520.0,447.5 520.5,447.4 521.0,447.0 521.5,446.3 522.0,446.9 522.5,447.2 523.0,447.4 524.0,447.5 524.5,447.5 526.0,447.5 526.5,447.1 527.0,445.5 527.5,442.4 528.0,444.9 528.5,446.4 529.0,447.0 530.0,447.3 530.5,447.5 532.0,447.5 532.5,446.6 533.0,442.9 533.5,436.1 534.0,441.8 534.5,445.0 535.0,446.4 536.0,447.2 536.5,447.5 538.0,447.5 538.5,446.7 539.0,443.6 539.5,437.7 540.0,442.6 540.5,445.3 541.0,446.5 542.0,447.2 542.5,447.5 544.0,447.5 544.5,447.3 545.0,446.5 545.5,445.0 546.0,446.2 546.5,446.9 547.0,447.2 548.0,447.4 548.5,447.5 549.0,447.5 549.5,446.9 550.0,444.5 550.5,440.0 551.0,443.8 551.5,445.9 552.0,446.8 553.0,447.3 553.5,447.5 555.0,447.5 555.5,446.8 556.0,443.9 556.5,438.5 557.0,443.0 557.5,445.5 558.0,446.6 559.0,447.2 559.5,447.5 561.0,447.5 561.5,446.8 562.0,443.9 562.5,438.5 563.0,443.0 563.5,445.5 564.0,446.6 565.0,447.2 565.5,447.5 567.0,447.5 567.5,446.6 568.0,442.8 568.5,435.7 569.0,441.6 569.5,444.9 570.0,446.3 571.0,447.1 571.5,447.5 573.0,447.5 573.5,446.7 574.0,443.6 574.5,437.7 575.0,442.6 575.5,445.3 576.0,446.5 577.0,447.2 577.5,447.5 579.0,447.5 579.5,446.8 580.0,443.9 580.5,438.5 581.0,443.0 581.5,445.5 582.0,446.6 583.0,447.2 583.5,447.5 585.0,447.5 585.5,447.3 586.0,446.3 586.5,444.4 587.0,445.9 587.5,446.8 588.0,447.2 589.0,447.4 589.5,447.5 591.0,447.5 591.5,447.1 592.0,445.7 592.5,443.0 593.0,445.2 593.5,446.5 594.0,447.1 595.0,447.4 595.5,447.5 597.0,447.5 597.5,447.2 598.0,445.9 598.5,443.5 599.0,445.5 599.5,446.6 600.0,447.1 601.0,447.4 601.5,447.5 603.0,447.5 603.5,446.9 604.0,444.7 604.5,440.4 605.0,443.9 605.5,445.9 606.0,446.8 607.0,447.3 607.5,447.5 609.0,447.5 609.5,447.1 610.0,445.3 610.5,442.0 611.0,444.8 611.5,446.3 612.0,446.9 613.0,447.3 613.5,447.5 615.0,447.5 615.5,446.8 616.0,444.1 616.5,439.0 617.0,443.2 617.5,445.6 618.0,446.6 619.0,447.2 619.5,447.5 620.0,447.5 620.5,447.0 621.0,444.9 621.5,441.0 622.0,444.2 622.5,446.1 623.0,446.9 624.0,447.3 624.5,447.5 626.0,447.5 626.5,446.7 627.0,443.3 627.5,437.1 628.0,442.3 628.5,445.2 629.0,446.5 630.0,447.2 630.5,447.5 632.0,447.5 632.5,447.2 633.0,445.9 633.5,443.5 634.0,445.5 634.5,446.6 635.0,447.1 636.0,447.4 636.5,447.5 638.0,447.5 638.5,446.9 639.0,444.3 639.5,439.6 640.0,443.6 640.5,445.8 641.0,446.7 642.0,447.3 642.5,447.5 644.0,447.5 644.5,447.1 645.0,445.5 645.5,442.4 646.0,444.9 646.5,446.4 647.0,447.0 648.0,447.3 648.5,447.5 650.0,447.5 650.5,447.0 651.0,445.1 651.5,441.6 652.0,444.6 652.5,446.2 653.0,446.9 654.0,447.3 654.5,447.5 656.0,447.5 656.5,447.3 657.0,446.3 657.5,444.4 658.0,445.9 658.5,446.8 659.0,447.2 660.0,447.4 660.5,447.5 662.0,447.5 662.5,446.9 663.0,444.3 663.5,439.6 664.0,443.6 664.5,445.8 665.0,446.7 666.0,447.3 666.5,447.5 668.0,447.5 668.5,447.4 669.0,447.0 669.5,446.3 670.0,446.9 670.5,447.2 671.0,447.4 672.0,447.5 672.5,447.5 674.0,447.5 674.5,447.3 675.0,446.3 675.5,444.4 676.0,445.9 676.5,446.8 677.0,447.2 678.0,447.4 678.5,447.5 680.0,447.5 680.5,447.0 681.0,445.1 681.5,441.6 682.0,444.6 682.5,446.2 683.0,446.9 684.0,447.3 684.5,447.5 686.0,447.5 686.5,446.9 687.0,444.3 687.5,439.6 688.0,443.6 688.5,445.8 689.0,446.7 690.0,447.3 690.5,447.5 691.0,447.5 691.5,447.1 692.0,445.3 692.5,442.0 693.0,444.8 693.5,446.3 694.0,446.9 695.0,447.3 695.5,447.5 697.0,447.5 697.5,447.0 698.0,444.9 698.5,441.0 699.0,444.2 699.5,446.1 700.0,446.9 701.0,447.3 701.5,447.5 703.0,447.5 703.5,446.9 704.0,444.3 704.5,439.6 705.0,443.6 705.5,445.8 706.0,446.7 707.0,447.3 707.5,447.5 709.0,447.5 709.5,446.6 710.0,443.2 710.5,436.7 711.0,442.1 711.5,445.1 712.0,446.4 713.0,447.2 713.5,447.5 715.0,447.5 715.5,447.0 716.0,444.9 716.5,441.0 717.0,444.2 717.5,446.1 718.0,446.9 719.0,447.3 719.5,447.5 721.0,447.5 721.5,447.1 722.0,445.3 722.5,442.0 723.0,444.8 723.5,446.3 724.0,446.9 725.0,447.3 725.5,447.5 727.0,447.5 727.5,447.2 728.0,446.1 728.5,443.9 729.0,445.7 729.5,446.7 730.0,447.1 731.0,447.4 731.5,447.5 733.0,447.5 733.5,447.3 734.0,446.4 734.5,444.8 735.0,446.1 735.5,446.9 736.0,447.2 737.0,447.4 737.5,447.5 739.0,447.5 739.5,447.1 740.0,445.3 740.5,442.0 741.0,444.8 741.5,446.3 742.0,446.9 743.0,447.3 743.5,447.5 745.0,447.5 745.5,446.9 746.0,444.7 746.5,440.5 747.0,444.0 747.5,446.0 748.0,446.8 749.0,447.3 749.5,447.5" fill="#0000ff" stroke="#0000ff" stroke-width="1" shape-rendering="crispEdges"/>
<rect x="148" y="433" width="600" height="1" fill="#000"/>
<rect x="148" y="433" width="1" height="15" fill="#000"/>
<rect x="747" y="433" width="1" height="15" fill="#000"/>
</svg>
</body>
</html>
